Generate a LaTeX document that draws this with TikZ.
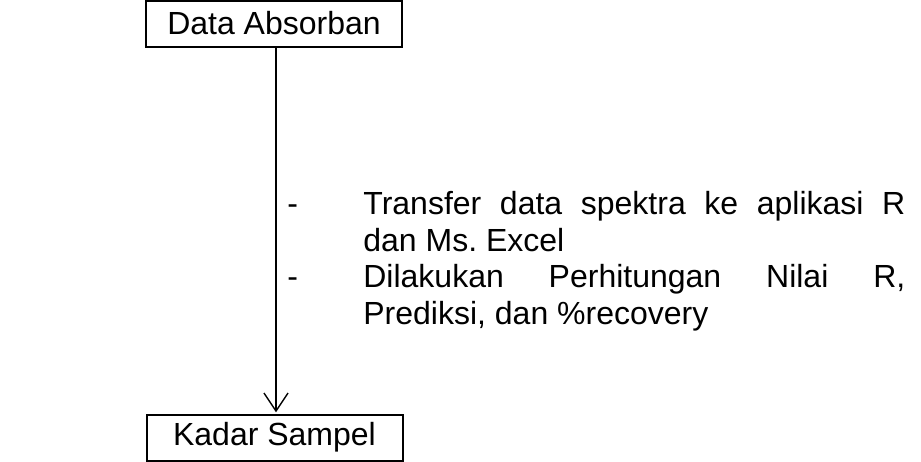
\documentclass[tikz,border=0pt]{standalone}
\usepackage{fontspec}
\setmainfont{Liberation Sans}
\usetikzlibrary{arrows.meta}
\frenchspacing
\begin{document}
\begin{tikzpicture}
          [x=0.5pt,y=-0.5pt,
          font=\fontsize{16}{18.3}\selectfont,
          box/.style={shape=rectangle,draw=black,line width=1pt,minimum width=128pt,minimum height=23pt,inner sep=0pt},
          arc/.style={-{Straight Barb[length=9pt,width=12pt,line width=0.7pt]},line width=0.8pt},
          list/.style={text width=309pt,align=justify,inner sep=0pt,anchor=north west}]

            \useasboundingbox (0,0) rectangle (921,461);
            \node (absorban) [box] at (274,23.5) {Data Absorban};
            \node (kadar) [box] at (274.5,437.5) {Kadar Sampel};
            \node (langkah) [list] at (287,191)
              {\hangindent=38pt\hangafter=1\makebox[38pt][l]{-}Transfer data spektra ke aplikasi R\linebreak dan Ms. Excel\par
               \hangindent=38pt\hangafter=1\makebox[38pt][l]{-}Dilakukan Perhitungan Nilai R,\linebreak Prediksi, dan \%recovery\par};
          \draw [arc] ([xshift=1pt]absorban.south) -- ([xshift=0.75pt,yshift=0.6pt]kadar.north);

        \end{tikzpicture}
\end{document}
